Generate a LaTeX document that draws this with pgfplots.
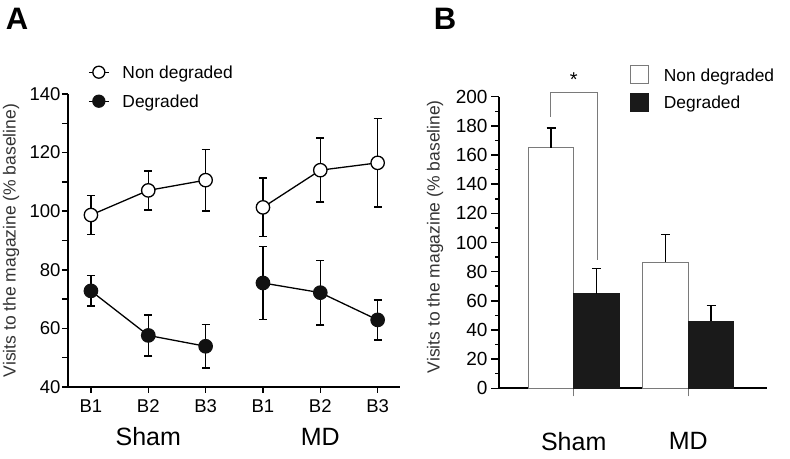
\documentclass[border=0pt]{standalone}
\usepackage{fontspec}
\setmainfont{Liberation Sans}
\usepackage{pgfplots}
\pgfplotsset{compat=1.18}
\definecolor{dotblack}{HTML}{111111}
\definecolor{barblack}{HTML}{1A1A1A}
\definecolor{edgegray}{HTML}{7A7A7A}
\definecolor{labelgray}{HTML}{333333}
\begin{document}
\begin{tikzpicture}[x=1pt,y=1pt]
\path[use as bounding box] (0,0) rectangle (790,458);
\node[font=\fontsize{31}{31}\selectfont\bfseries] at (17,439) {A};
\node[font=\fontsize{31}{31}\selectfont\bfseries] at (445,439) {B};

\begin{axis}[
  at={(68pt,71pt)}, anchor=south west,
  scale only axis, width=332pt, height=293pt,
  xmin=-0.4, xmax=5.39, ymin=40, ymax=140,
  axis lines=left, axis line style={line width=1.8pt,-},
  xtick={0,...,5}, xticklabels={B1,B2,B3,B1,B2,B3},
  ytick={40,60,...,140}, minor ytick={50,70,...,130},
  tick align=outside, major tick length=6pt, minor tick length=6pt,
  every tick/.style={line width=1.5pt, black},
  ticklabel style={font=\fontsize{18.5}{18.5}\selectfont},
  xticklabel style={yshift=-3pt},
  yticklabel style={xshift=2pt},
  /pgf/number format/assume math mode=true,
  ylabel={Visits to the magazine (\% baseline)},
  ylabel style={at={(axis description cs:-0.1717,0.5)}, anchor=center, text=labelgray, font=\fontsize{17.5}{18}\selectfont},
  clip=false,
  legend cell align=left,
  legend style={at={(axis description cs:0.0602,1.1034)}, anchor=north west, draw=none, fill=none, inner sep=0pt,
    font=\fontsize{17.4}{20}\selectfont, row sep=12.4pt, column sep=13pt,
    nodes={inner sep=0pt, text height=14.6pt, text depth=2pt}},
  legend image code/.code={\draw[#1, mark repeat=2, mark phase=2, mark size=6pt] plot coordinates {(0pt,0pt) (10pt,0pt) (20pt,0pt)};},
  error bars/y dir=both, error bars/y explicit,
  error bars/error mark options={rotate=90, mark size=4pt, line width=1.5pt, black},
  error bars/error bar style={line width=1.5pt, black},
]
\addplot[black, line width=1.3pt, mark=*, mark size=6.7pt, mark options={fill=white, draw=black, line width=1.3pt}]
  coordinates {(0,98.7) +- (0,6.7) (1,107.1) +- (0,6.7) (2,110.6) +- (0,10.5)};
\addlegendentry{Non degraded}
\addplot[black, line width=1.3pt, mark=*, mark size=6.7pt, mark options={fill=dotblack, draw=dotblack}]
  coordinates {(0,72.8) +- (0,5.2) (1,57.6) +- (0,7.0) (2,53.9) +- (0,7.5)};
\addlegendentry{Degraded}
\addplot[black, line width=1.3pt, mark=*, mark size=6.7pt, mark options={fill=white, draw=black, line width=1.3pt}, forget plot]
  coordinates {(3,101.3) +- (0,10.0) (4,114.0) +- (0,10.9) (5,116.5) +- (0,15.1)};
\addplot[black, line width=1.3pt, mark=*, mark size=6.7pt, mark options={fill=dotblack, draw=dotblack}, forget plot]
  coordinates {(3,75.5) +- (0,12.5) (4,72.2) +- (0,11.0) (5,62.9) +- (0,6.8)};
\node[font=\fontsize{25}{25}\selectfont] at ([yshift=-50pt]axis cs:1,40) {Sham};
\node[font=\fontsize{25}{25}\selectfont] at ([yshift=-50pt]axis cs:4,40) {MD};
\end{axis}

\begin{axis}[
  at={(499pt,69.7pt)}, anchor=south west,
  scale only axis, width=267.7pt, height=291.6pt,
  xmin=0.348, xmax=2.684, ymin=0, ymax=200,
  axis lines=left, axis line style={line width=1.8pt,-},
  xtick={1,2}, xticklabels={Sham,MD},
  ytick={0,20,...,200}, minor ytick={10,30,...,190},
  tick align=outside, major tick length=8pt, minor tick length=4pt,
  ytick style={line width=1.5pt, black},
  xtick style={line width=1.2pt, draw=edgegray},
  yticklabel style={font=\fontsize{19}{19}\selectfont},
  xticklabel style={font=\fontsize{25}{25}\selectfont, anchor=center, yshift=-45pt},
  /pgf/number format/assume math mode=true,
  ylabel={Visits to the magazine (\% baseline)},
  ylabel style={at={(axis description cs:-0.239,0.52)}, anchor=center, text=labelgray, font=\fontsize{17.5}{18}\selectfont},
  clip=false,
  legend cell align=left,
  legend style={at={(axis description cs:0.4894,1.1087)}, anchor=north west, draw=none, fill=none, inner sep=0pt,
    font=\fontsize{17.4}{20}\selectfont, row sep=8.6pt, column sep=14.7pt,
    nodes={inner sep=0pt, text height=14.6pt, text depth=2pt}},
  error bars/y dir=plus, error bars/y explicit,
  error bars/error mark options={rotate=90, mark size=4.5pt, line width=1.5pt, black},
  error bars/error bar style={line width=1.5pt, black},
]
\addplot[ybar, bar width=45.4pt, bar shift=0pt, fill=white, draw=edgegray, line width=1pt,
  legend image code/.code={\draw[fill=white, draw=edgegray, line width=1pt] (0pt,-9pt) rectangle (18pt,9pt);}]
  coordinates {(0.802,165) +- (0,13.7) (1.802,86.6) +- (0,19.0)};
\addlegendentry{Non degraded}
\addplot[ybar, bar width=45.4pt, bar shift=0pt, fill=barblack, draw=barblack, line width=1pt,
  legend image code/.code={\draw[fill=barblack, draw=barblack, line width=1pt] (0pt,-9pt) rectangle (18pt,9pt);}]
  coordinates {(1.198,64.7) +- (0,17.3) (2.198,46.0) +- (0,10.7)};
\addlegendentry{Degraded}
\draw[edgegray, line width=1pt] (axis cs:0.793,186.3) -- (axis cs:0.793,203.2) -- (axis cs:1.206,203.2) -- (axis cs:1.206,88);
\node[font=\fontsize{20}{20}\selectfont] at (axis cs:1.0,212) {*};
\end{axis}
\end{tikzpicture}
\end{document}
